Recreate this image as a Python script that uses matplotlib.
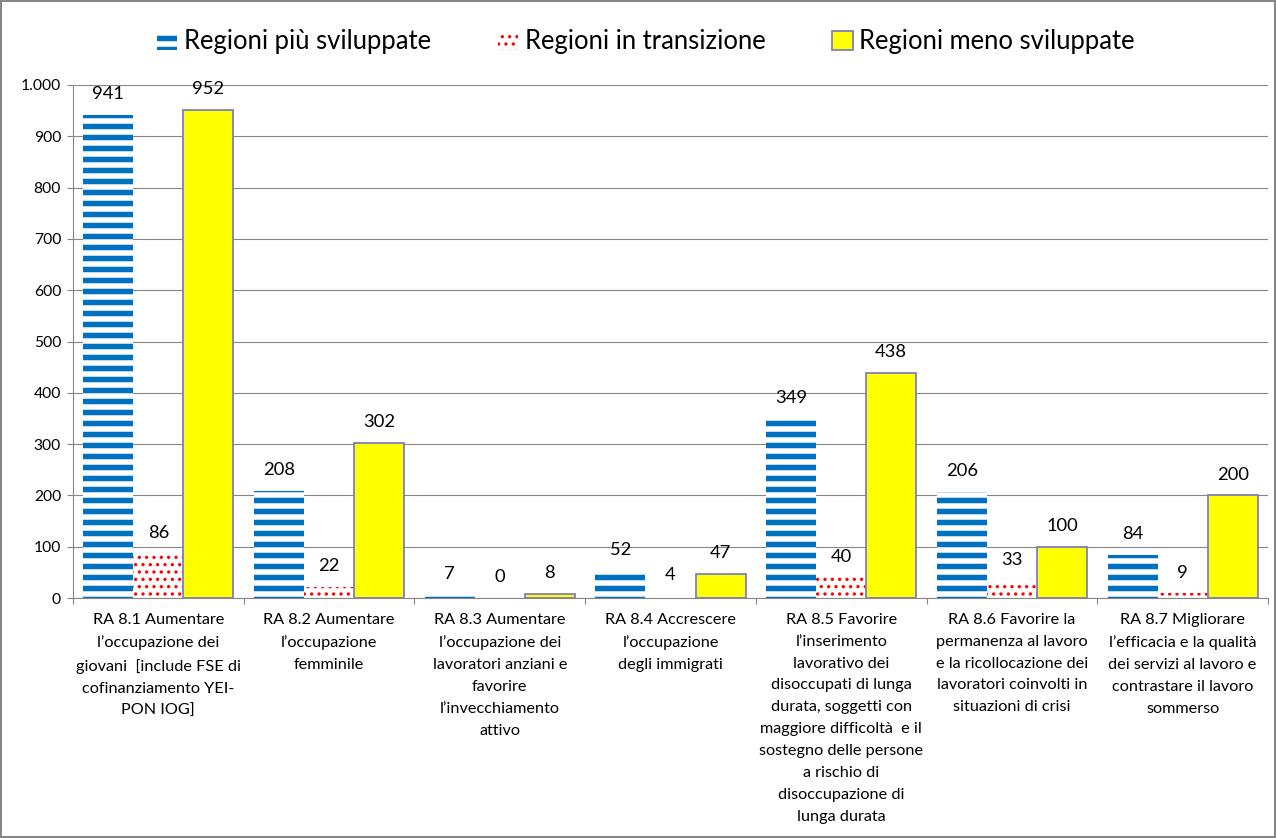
import numpy as np
import matplotlib
import matplotlib.pyplot as plt
from matplotlib.ticker import FuncFormatter

plt.rcParams['font.family'] = ['Lato', 'DejaVu Sans']

categories = [
    "RA 8.1 Aumentare\nl’occupazione dei\ngiovani  [include FSE di\ncofinanziamento YEI-\nPON IOG]",
    "RA 8.2 Aumentare\nl’occupazione\nfemminile",
    "RA 8.3 Aumentare\nl’occupazione dei\nlavoratori anziani e\nfavorire\nl’invecchiamento\nattivo",
    "RA 8.4 Accrescere\nl’occupazione\ndegli immigrati",
    "RA 8.5 Favorire\nl’inserimento\nlavorativo dei\ndisoccupati di lunga\ndurata, soggetti con\nmaggiore difficoltà  e il\nsostegno delle persone\na rischio di\ndisoccupazione di\nlunga durata",
    "RA 8.6 Favorire la\npermanenza al lavoro\ne la ricollocazione dei\nlavoratori coinvolti in\nsituazioni di crisi",
    "RA 8.7 Migliorare\nl’efficacia e la qualità\ndei servizi al lavoro e\ncontrastare il lavoro\nsommerso",
]
piu_sviluppate = [941, 208, 7, 52, 349, 206, 84]
in_transizione = [86, 22, 0, 4, 40, 33, 9]
meno_sviluppate = [952, 302, 8, 47, 438, 100, 200]
yticks = np.arange(0, 1001, 100)

GRAY = '#868686'
DPI = 132
W, H = 1276, 838

fig = plt.figure(figsize=(W / DPI, H / DPI), dpi=DPI)
fig.patch.set_edgecolor(GRAY)
fig.patch.set_linewidth(1.2)
# plot area in pixels: x 73..1268, y 85..598
ax = fig.add_axes([73 / W, 1 - 598 / H, (1268 - 73) / W, 513 / H])

x = np.arange(len(categories))
w = 0.293

b1 = ax.bar(x - w, piu_sviluppate, w, facecolor='white', edgecolor='#0070C0',
            linewidth=0, hatch='--', label='Regioni più sviluppate', zorder=2)
b2 = ax.bar(x, in_transizione, w, facecolor='white', edgecolor='#FF0000',
            linewidth=0, hatch='...', label='Regioni in transizione', zorder=2)
b3 = ax.bar(x + w, meno_sviluppate, w, facecolor='#FFFF00', edgecolor='#8080C0',
            linewidth=1.0, label='Regioni meno sviluppate', zorder=2)

for bars in (b1, b2, b3):
    ax.bar_label(bars, padding=7, fontsize=10, color='black')

ax.set_xlim(-0.5, len(categories) - 0.5)
ax.set_ylim(0, 1000)
ax.set_yticks(yticks)
ax.yaxis.set_major_formatter(FuncFormatter(lambda v, _: f"{int(v):,}".replace(',', '.')))
ax.grid(axis='y', color=GRAY, linewidth=0.6, zorder=0)
ax.set_axisbelow(True)

ax.set_xticks(x)
ax.set_xticklabels(categories, fontsize=8.9, linespacing=1.72, va='top')
ax.set_xticks(np.arange(len(categories) + 1) - 0.5, minor=True)
ax.tick_params(axis='x', which='major', length=0, pad=8)
ax.tick_params(axis='x', which='minor', length=3.5, color=GRAY, width=0.6)
ax.tick_params(axis='y', length=3.5, color=GRAY, width=0.6, labelsize=8.5, pad=3)

for s in ('top', 'right'):
    ax.spines[s].set_visible(False)
for s in ('left', 'bottom'):
    ax.spines[s].set_color(GRAY)
    ax.spines[s].set_linewidth(0.6)

leg = fig.legend(handles=[b1, b2, b3], loc='center', bbox_to_anchor=(0.506, 0.95),
                 ncol=3, frameon=False, fontsize=14, handlelength=0.8,
                 handleheight=0.75, handletextpad=0.25, columnspacing=2.6)

# hatch stroke widths: thick blue stripes, small red dots
for patches, lw in ((list(b1) + [leg.legend_handles[0]], 3.0),
                    (list(b2) + [leg.legend_handles[1]], 1.0)):
    for p in patches:
        if hasattr(p, 'set_hatch_linewidth'):
            p.set_hatch_linewidth(lw)

fig.savefig('out.png', dpi=DPI)
